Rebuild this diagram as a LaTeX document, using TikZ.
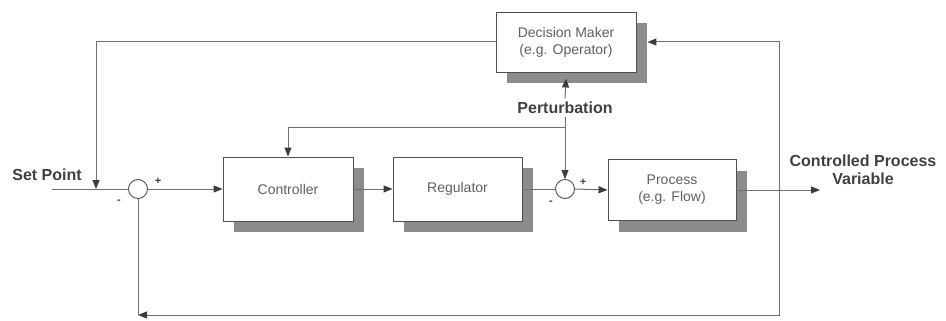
\documentclass[tikz,border=0pt]{standalone}
\usepackage{fontspec}
\setmainfont{Liberation Sans}
\usepackage{xcolor}
\usepackage{tikz}
\usetikzlibrary{arrows.meta,shadows}
\definecolor{wireGray}{HTML}{707070}
\definecolor{edgeGray}{HTML}{505050}
\definecolor{tipGray}{HTML}{3C3C3C}
\definecolor{shadeGray}{HTML}{8C8C8C}
\definecolor{textGray}{HTML}{606060}
\definecolor{labelGray}{HTML}{404040}

\begin{document}
\begin{tikzpicture}[
  x=1pt, y=-1pt,
  blk/.style={draw=edgeGray, line width=0.9pt, fill=white, align=center,
              text=textGray, font=\fontsize{14}{17}\selectfont,
              drop shadow={shadow xshift=11pt, shadow yshift=-11pt,
                           fill=shadeGray, opacity=1}},
  sumpt/.style={draw=edgeGray, line width=0.9pt, circle, fill=white,
                minimum size=19pt, inner sep=0pt},
  lbl/.style={text=labelGray, align=center, font=\fontsize{16}{18}\selectfont\bfseries},
  sgn/.style={text=labelGray, font=\fontsize{11}{12}\selectfont\bfseries, inner sep=0pt},
  wire/.style={draw=wireGray, line width=1pt},
  arr/.style={wire, -{Triangle[length=9pt, width=7pt, color=tipGray]}}
]
\useasboundingbox (0,0) rectangle (946,321);
\node[blk, minimum width=130pt, minimum height=64pt] (ctrl) at (288,189) {Controller};
\node[blk, minimum width=129pt, minimum height=64pt] (reg) at (457.5,189) {Regulator};
\node[blk, minimum width=128pt, minimum height=61pt] (proc) at (672,190) {Process\\(e.g. Flow)};
\node[blk, minimum width=140pt, minimum height=60pt] (dm) at (566,42) {Decision Maker\\(e.g. Operator)};
\node[sumpt] (sum1) at (138,189) {};
\node[sumpt] (sum2) at (565,189) {};
\node[lbl] (setpt) at (47,175) {Set Point};
\node[lbl] (pert) at (565,108) {Perturbation};
\node[lbl] (cpv) at (863,170) {Controlled Process\\Variable};
\node[sgn] (p1) at (158,181) {+};
\node[sgn] (m1) at (119,202) {-};
\node[sgn] (p2) at (583,182) {+};
\node[sgn] (m2) at (551,203) {-};
\coordinate (spin) at (52,189);
\coordinate (spj) at (96,189);
\coordinate (brk) at (565,127);
\coordinate (out) at (820,190);
\coordinate (fbr) at (779,190);
\coordinate (bl) at (138,315);
% forward path
\draw[wire] (spin) -- (sum1.west);
\draw[arr] (sum1.east) -- (ctrl.west);
\draw[arr] (ctrl.east) -- (reg.west);
\draw[wire] (reg.east) -- (sum2.west);
\draw[arr] (sum2.east) -- (proc.west);
\draw[arr] (proc.east) -- (out);
% perturbation
\draw[arr] (pert.north) -- ([yshift=-6pt]dm.south);
\draw[arr] (pert.south) -- (sum2.north);
\draw[arr] (brk) -| (ctrl.north);
% feedback loops
\draw[arr] (dm.west) -| (spj);
\draw[arr] (fbr) |- ([xshift=11pt]dm.east);
\draw[arr] (fbr) |- (bl);
\draw[wire] (bl) -- (sum1.south);
\end{tikzpicture}
\end{document}
